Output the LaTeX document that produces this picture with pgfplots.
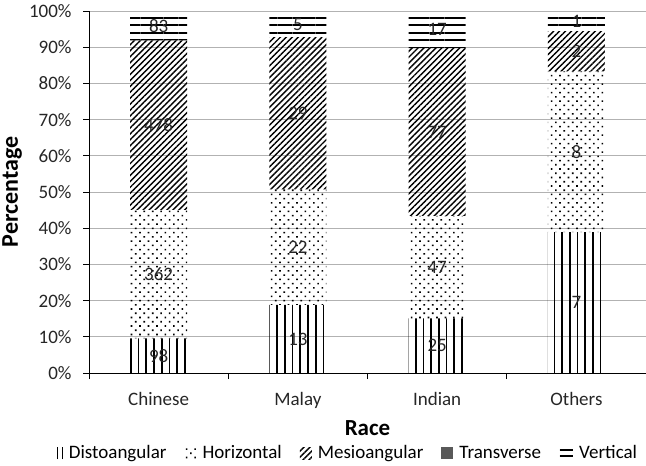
\documentclass[border=0pt]{standalone}
\usepackage{fontspec}
\setmainfont{Carlito}
\usepackage{pgfplots}
\usepackage{pgfplotstable}
\pgfplotsset{compat=1.18}
\usetikzlibrary{patterns.meta}

\definecolor{gridgray}{RGB}{178,178,178}
\definecolor{transgray}{RGB}{89,89,89}

% x = race index, pct = share of the race (%), n = count
\pgfplotstableread{
x pct n
0 9.598 98
1 18.841 13
2 15.060 25
3 38.889 7
}\disto
\pgfplotstableread{
x pct n
0 35.455 362
1 31.884 22
2 28.313 47
3 44.444 8
}\horiz
\pgfplotstableread{
x pct n
0 46.817 478
1 42.029 29
2 46.386 77
3 11.111 2
}\mesio
\pgfplotstableread{
x pct n
0 0 0
1 0 0
2 0 0
3 0 0
}\trans
\pgfplotstableread{
x pct n
0 8.129 83
1 7.246 5
2 10.241 17
3 5.556 1
}\vert

\begin{document}
\begin{tikzpicture}
\begin{axis}[
    ybar stacked,
    bar width=57pt,
    scale only axis,
    width=557pt, height=362pt,
    xmin=-0.5, xmax=3.5,
    ymin=0, ymax=100,
    axis lines*=left,
    axis line style={black, line width=0.9pt},
    xtick={0,1,2,3},
    xticklabels={Chinese,Malay,Indian,Others},
    major x tick style={draw=none},
    minor xtick={-0.5,0.5,1.5,2.5},
    minor x tick style={black, line width=0.8pt},
    ytick={0,10,...,100},
    yticklabel={\pgfmathprintnumber{\tick}\%},
    /pgf/number format/assume math mode=true,
    y tick style={black, line width=0.8pt},
    tick align=outside,
    major tick length=6pt,
    minor tick length=6pt,
    ymajorgrids,
    grid style={gridgray, line width=0.9pt},
    ticklabel style={font=\fontsize{19}{22}\selectfont, text=black!85},
    xticklabel style={yshift=-10pt},
    yticklabel style={xshift=-8pt},
    xlabel={Race},
    ylabel={Percentage},
    xlabel style={at={(axis description cs:0.5,-0.152)}, anchor=center,
        font=\fontsize{23}{27}\selectfont\bfseries},
    ylabel style={at={(axis description cs:-0.138,0.5)}, anchor=center,
        font=\fontsize{24}{28}\selectfont\bfseries},
    legend columns=5,
    legend style={at={(axis description cs:0.465,-0.221)}, anchor=center,
        draw=none, fill=none, font=\fontsize{19}{22}\selectfont,
        /tikz/every odd column/.append style={column sep=4pt},
        /tikz/every even column/.append style={column sep=16pt}},
    legend image code/.code={\path[#1] (0pt,-6pt) rectangle (12pt,6pt);},
    nodes near coords style={anchor=center, font=\fontsize{19}{22}\selectfont,
        text=black!85},
    clip=false,
]
\addplot[draw=none, fill=white, nodes near coords, point meta=explicit,
    pattern={Lines[angle=90,distance=7.7pt,line width=1.7pt]}, pattern color=black,
    legend image code/.code={\draw[black, line width=1pt]
        (3pt,-6pt) -- (3pt,6pt) (8pt,-6pt) -- (8pt,6pt);}]
    table[x=x, y=pct, meta=n] {\disto};
\addplot[draw=none, fill=white, nodes near coords, point meta=explicit,
    pattern={Dots[angle=45,distance=6pt,radius=1.1pt]}, pattern color=black]
    table[x=x, y=pct, meta=n] {\horiz};
\addplot[draw=none, fill=white, nodes near coords, point meta=explicit,
    pattern={Lines[angle=45,distance=4.2pt,line width=1.4pt]}, pattern color=black]
    table[x=x, y=pct, meta=n] {\mesio};
\addplot[draw=none, fill=transgray]
    table[x=x, y=pct] {\trans};
\addplot[draw=none, fill=white, nodes near coords, point meta=explicit,
    pattern={Lines[angle=0,distance=7.6pt,line width=2pt]}, pattern color=black,
    legend image code/.code={\draw[black, line width=1.2pt]
        (0pt,-3pt) -- (13pt,-3pt) (0pt,3pt) -- (13pt,3pt);}]
    table[x=x, y=pct, meta=n] {\vert};
\legend{Distoangular, Horizontal, Mesioangular, Transverse, Vertical}
\coordinate (bl) at (rel axis cs:-0.1598,-0.2569);
\coordinate (tr) at (rel axis cs:1,1.0304);
\end{axis}
\pgfresetboundingbox
\path (bl) rectangle (tr);
\end{tikzpicture}
\end{document}
